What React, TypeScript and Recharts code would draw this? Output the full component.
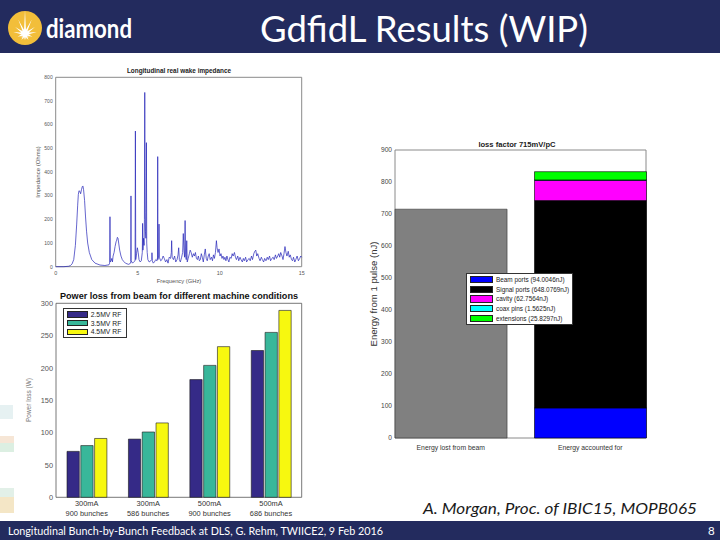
import React from "react";
import {
  LineChart,
  Line,
  BarChart,
  Bar,
  XAxis,
  YAxis,
  ReferenceArea,
  Legend,
} from "recharts";

const NAVY = "#232b5e";
const MATLAB_FONT = "'Liberation Sans', Arial, Helvetica, sans-serif";
const SLIDE_FONT = "Lato, 'Open Sans', sans-serif";

// Longitudinal real wake impedance, [frequency GHz, impedance Ohm]
const impedanceSamples: [number, number][] = [
  [0, 0], [0.5, 0], [0.8, 2], [0.9, 5], [1.0, 12], [1.1, 30], [1.2, 90],
  [1.28, 180], [1.34, 260], [1.38, 305], [1.42, 321], [1.47, 318], [1.52, 308],
  [1.57, 325], [1.62, 338], [1.66, 341], [1.7, 325], [1.76, 280], [1.82, 210],
  [1.88, 150], [1.95, 100], [2.05, 60], [2.2, 30], [2.4, 15], [2.7, 7], [3.0, 5],
  [3.25, 8], [3.29, 15], [3.31, 211], [3.33, 20], [3.38, 25], [3.42, 35], [3.46, 20],
  [3.5, 45], [3.56, 60], [3.62, 85], [3.68, 105], [3.72, 112], [3.76, 124], [3.8, 120],
  [3.84, 100], [3.9, 70], [3.98, 45], [4.06, 30], [4.15, 22], [4.25, 15], [4.35, 12],
  [4.45, 10], [4.55, 14], [4.58, 20], [4.59, 299], [4.6, 25], [4.68, 15], [4.75, 20],
  [4.84, 25], [4.86, 573], [4.88, 30], [4.93, 55], [4.98, 80], [5.03, 60], [5.08, 30],
  [5.15, 20], [5.22, 25], [5.28, 60], [5.3, 183], [5.32, 70], [5.36, 120], [5.39, 90],
  [5.41, 200], [5.43, 736], [5.45, 230], [5.47, 150], [5.5, 120], [5.53, 524], [5.55, 100],
  [5.58, 60], [5.62, 30], [5.7, 20], [5.8, 25], [5.86, 30], [5.87, 59], [5.89, 25],
  [5.95, 15], [6.02, 20], [6.1, 30], [6.18, 25], [6.21, 40], [6.22, 465], [6.23, 30],
  [6.28, 45], [6.3, 180], [6.32, 40], [6.4, 25], [6.48, 30], [6.55, 45], [6.62, 35],
  [6.7, 20], [6.78, 30], [6.85, 15], [6.92, 40], [7.0, 35], [7.05, 60], [7.07, 110],
  [7.1, 40], [7.18, 30], [7.25, 45], [7.32, 20], [7.4, 30], [7.46, 50], [7.5, 80],
  [7.54, 30], [7.6, 20], [7.68, 40], [7.74, 60], [7.78, 140], [7.82, 70], [7.86, 40],
  [7.89, 195], [7.92, 50], [7.96, 30], [7.99, 110], [8.02, 20], [8.08, 35], [8.15, 55],
  [8.2, 70], [8.26, 60], [8.33, 40], [8.4, 55], [8.46, 45], [8.52, 60], [8.58, 35],
  [8.64, 30], [8.7, 45], [8.76, 25], [8.82, 30], [8.88, 55], [8.94, 40], [9.0, 20],
  [9.06, 50], [9.12, 75], [9.18, 35], [9.24, 25], [9.3, 45], [9.36, 55], [9.42, 30],
  [9.5, 40], [9.56, 25], [9.62, 50], [9.68, 35], [9.74, 60], [9.8, 110], [9.84, 80],
  [9.9, 60], [9.96, 75], [10.02, 45], [10.08, 55], [10.14, 35], [10.2, 45], [10.26, 30],
  [10.32, 40], [10.38, 25], [10.44, 45], [10.5, 30], [10.56, 20], [10.62, 40], [10.7, 35],
  [10.76, 55], [10.82, 45], [10.9, 60], [10.96, 40], [11.02, 30], [11.1, 45], [11.16, 25],
  [11.24, 40], [11.3, 30], [11.38, 20], [11.44, 35], [11.5, 25], [11.58, 40], [11.64, 20],
  [11.72, 30], [11.8, 35], [11.86, 25], [11.94, 45], [12.0, 30], [12.08, 55], [12.14, 65],
  [12.2, 70], [12.26, 45], [12.32, 55], [12.4, 35], [12.46, 25], [12.54, 40], [12.6, 30],
  [12.68, 20], [12.74, 35], [12.82, 25], [12.9, 40], [12.96, 30], [13.04, 45], [13.1, 25],
  [13.18, 35], [13.26, 40], [13.32, 30], [13.4, 50], [13.46, 35], [13.54, 45], [13.6, 55],
  [13.66, 40], [13.72, 60], [13.8, 45], [13.86, 30], [13.92, 55], [13.98, 85], [14.04, 60],
  [14.1, 45], [14.18, 65], [14.24, 40], [14.3, 50], [14.38, 30], [14.44, 25], [14.5, 40],
  [14.58, 20], [14.64, 30], [14.72, 45], [14.8, 25], [14.88, 35], [14.94, 45], [15.0, 40],
];
const freqTicks = [0, 5, 10, 15];
const impedanceTicks = [0, 100, 200, 300, 400, 500, 600, 700, 800];

// Power loss from beam (W)
const conditions = ["300mA|900 bunches", "300mA|586 bunches", "500mA|900 bunches", "500mA|686 bunches"];
const rfLabels = ["2.5MV RF", "3.5MV RF", "4.5MV RF"];
const rfColors = ["#352a87", "#38b79a", "#f7f80f"];
const powerRf25 = [71, 90, 182, 227];
const powerRf35 = [80, 101, 204, 255];
const powerRf45 = [91, 115, 233, 289];
const powerTicks = [0, 50, 100, 150, 200, 250, 300];

// Energy from 1 pulse (nJ)
const energyCategories = ["Energy lost from beam", "Energy accounted for"];
const energyLost = 715;
const energyParts = ["Beam ports", "Signal ports", "cavity", "coax pins", "extensions"];
const energyPartValues = [94.0046, 648.0769, 62.7564, 1.5625, 25.8297];
const energyColors = ["#0000ff", "#000000", "#ff00ff", "#00ffff", "#00ff00"];
const energyTicks = [0, 100, 200, 300, 400, 500, 600, 700, 800, 900];

const impedanceData = impedanceSamples.map(([f, z]) => ({ f, z }));
const powerData = conditions.map((c, i) => ({
  c,
  rf25: powerRf25[i],
  rf35: powerRf35[i],
  rf45: powerRf45[i],
}));
const partRow: Record<string, number> = { pos: 2 };
energyPartValues.forEach((v, i) => (partRow[`p${i}`] = v));
const energyData = [{ pos: 1, lost: energyLost }, partRow];

// plain svg tick text, so colours don't get picked up from the axis
function makeTick(size: number, color: string, anchor: "middle" | "end", dy: number, fmt?: (v: any) => string) {
  return ({ x, y, payload }: any) => (
    <text x={x} y={y} dy={dy} textAnchor={anchor} fontSize={size} fill={color} stroke="none" fontFamily={MATLAB_FONT}>
      {fmt ? fmt(payload.value) : payload.value}
    </text>
  );
}

function ConditionTick({ x, y, payload }: any) {
  const [a, b] = String(payload.value).split("|");
  return (
    <text x={x} y={y} textAnchor="middle" fontSize={7.4} fill="#333" stroke="none" fontFamily={MATLAB_FONT}>
      <tspan x={x} dy={5.8}>{a}</tspan>
      <tspan x={x} dy={9.6}>{b}</tspan>
    </text>
  );
}

function BoxLegend({ payload, width, row, swatch, fontSize }: any) {
  const items = (payload || []).filter((e: any) => e.dataKey !== "lost" && e.type !== "none");
  return (
    <div
      style={{
        width,
        boxSizing: "border-box",
        border: "1px solid #333",
        background: "#fff",
        padding: "1px 2px 1px 3px",
        fontFamily: MATLAB_FONT,
        fontSize,
        color: "#222",
      }}
    >
      {items.map((e: any) => (
        <div key={e.value} style={{ display: "flex", alignItems: "center", height: row, whiteSpace: "nowrap" }}>
          <span
            style={{
              display: "inline-block",
              width: swatch,
              height: row - 2.5,
              background: e.color,
              border: "0.5px solid #222",
              boxSizing: "border-box",
              marginRight: 3,
              flex: "none",
            }}
          />
          <span>{e.value}</span>
        </div>
      ))}
    </div>
  );
}

function Logo() {
  const cx = 25;
  const cy = 34;
  const rays: [number, number][] = [
    [-90, 24], [-65, 16], [-115, 16], [-35, 12], [-145, 12], [-10, 12], [-170, 12],
    [20, 8], [160, 8], [60, 7], [120, 7], [90, 6],
  ];
  const pts: string[] = [];
  rays.forEach(([a, len]) => {
    const r = (a * Math.PI) / 180;
    pts.push(`${cx + 2 * Math.cos(r - 0.56)},${cy + 2 * Math.sin(r - 0.56)}`);
    pts.push(`${cx + len * Math.cos(r)},${cy + len * Math.sin(r)}`);
    pts.push(`${cx + 2 * Math.cos(r + 0.56)},${cy + 2 * Math.sin(r + 0.56)}`);
  });
  return (
    <g>
      <defs>
        <clipPath id="logoClip">
          <circle cx={25} cy={28} r={17} />
        </clipPath>
        <radialGradient id="glow" cx="50%" cy="50%" r="50%">
          <stop offset="0%" stopColor="#ffffff" />
          <stop offset="100%" stopColor="#ffffff" stopOpacity={0} />
        </radialGradient>
      </defs>
      <circle cx={25} cy={28} r={17} fill="#f2be3a" />
      <g clipPath="url(#logoClip)">
        <polygon points={pts.join(" ")} fill="#ffffff" />
        <circle cx={cx} cy={cy} r={6} fill="url(#glow)" />
      </g>
      <text x={46} y={38} fill="#fff" fontFamily={SLIDE_FONT} fontWeight={700} fontSize={26} textLength={86} lengthAdjust="spacingAndGlyphs">
        diamond
      </text>
    </g>
  );
}

export default function App() {
  return (
    <div style={{ position: "absolute", left: 0, top: 0, width: 720, height: 540, background: "#fff", overflow: "hidden" }}>
      <svg width={720} height={540} style={{ position: "absolute", left: 0, top: 0 }}>
        <rect x={0} y={0} width={720} height={53} fill={NAVY} />
        <Logo />
        <text x={260} y={42} fill="#fff" fontFamily={SLIDE_FONT} fontSize={36} textLength={328} lengthAdjust="spacingAndGlyphs">
          GdfidL Results (WIP)
        </text>

        {/* faint decorative smudges on the left edge */}
        <rect x={0} y={405} width={13} height={14} fill="#e6f1f2" />
        <rect x={0} y={436} width={14} height={7} fill="#f6e6d6" />
        <rect x={0} y={443} width={14} height={9} fill="#dcefe2" />
        <rect x={0} y={488} width={14} height={9} fill="#e2f0e8" />
        <rect x={0} y={497} width={14} height={16} fill="#f4e6c6" />

        {/* chart titles and axis labels */}
        <text x={179} y={73} textAnchor="middle" fontFamily={MATLAB_FONT} fontWeight={700} fontSize={6.4} fill="#222">
          Longitudinal real wake impedance
        </text>
        <text x={179} y={283} textAnchor="middle" fontFamily={MATLAB_FONT} fontSize={5.8} fill="#555">
          Frequency (GHz)
        </text>
        <text transform="translate(40,172) rotate(-90)" textAnchor="middle" fontFamily={MATLAB_FONT} fontSize={6} fill="#555">
          Impedance (Ohms)
        </text>

        <text x={179} y={299} textAnchor="middle" fontFamily={MATLAB_FONT} fontWeight={700} fontSize={8.2} fill="#111" textLength={238} lengthAdjust="spacingAndGlyphs">
          Power loss from beam for different machine conditions
        </text>
        <text transform="translate(31,400) rotate(-90)" textAnchor="middle" fontFamily={MATLAB_FONT} fontSize={6.5} fill="#777">
          Power loss (W)
        </text>

        <text x={517} y={147} textAnchor="middle" fontFamily={MATLAB_FONT} fontWeight={700} fontSize={7.6} fill="#222">
          loss factor 715mV/pC
        </text>
        <text transform="translate(377,294) rotate(-90)" textAnchor="middle" fontFamily={MATLAB_FONT} fontSize={9.6} fill="#333">
          Energy from 1 pulse (nJ)
        </text>

        <text x={423} y={514} fontFamily={SLIDE_FONT} fontStyle="italic" fontSize={15} fill="#1a1a1a" textLength={274} lengthAdjust="spacingAndGlyphs">
          A. Morgan, Proc. of IBIC15, MOPB065
        </text>

        <rect x={0} y={521} width={720} height={19} fill={NAVY} />
        <text x={8} y={535} fill="#fff" fontFamily={SLIDE_FONT} fontSize={11.5} textLength={375} lengthAdjust="spacingAndGlyphs">
          Longitudinal Bunch-by-Bunch Feedback at DLS, G. Rehm, TWIICE2, 9 Feb 2016
        </text>
        <text x={708} y={535} fill="#fff" fontFamily={SLIDE_FONT} fontSize={11.5}>
          8
        </text>
      </svg>

      {/* impedance spectrum */}
      <div style={{ position: "absolute", left: 20, top: 62, fontFamily: MATLAB_FONT }}>
        <LineChart width={290} height={230} data={impedanceData} margin={{ top: 15.3, right: 8.3, bottom: 5.3, left: 10.7 }}>
          <ReferenceArea y1={0} y2={800} fill="none" stroke="#8a8a8a" strokeWidth={1} />
          <XAxis
            type="number"
            dataKey="f"
            domain={[0, 15]}
            ticks={freqTicks}
            height={20}
            axisLine={false}
            tickLine={false}
            tickSize={2}
            tickMargin={1}
            tick={makeTick(5.4, "#555", "middle", 5)}
          />
          <YAxis
            domain={[0, 800]}
            ticks={impedanceTicks}
            width={25}
            axisLine={false}
            tickLine={false}
            tickSize={2}
            tickMargin={1}
            tick={makeTick(5, "#555", "end", 1.8)}
          />
          <Line dataKey="z" type="linear" dot={false} stroke="#2424b8" strokeWidth={0.7} isAnimationActive={false} />
        </LineChart>
      </div>

      {/* power loss bars */}
      <div style={{ position: "absolute", left: 20, top: 290, fontFamily: MATLAB_FONT }}>
        <BarChart
          width={290}
          height={235}
          data={powerData}
          margin={{ top: 13.3, right: 8.3, bottom: 5.7, left: 11 }}
          barSize={12.3}
          barGap={1.5}
        >
          <ReferenceArea y1={0} y2={300} fill="none" stroke="#555" strokeWidth={0.8} />
          <XAxis dataKey="c" height={22} axisLine={false} tickLine={false} tickSize={3} tickMargin={0} tick={<ConditionTick />} interval={0} />
          <YAxis
            domain={[0, 300]}
            ticks={powerTicks}
            width={25}
            axisLine={false}
            tickLine={false}
            tickSize={2}
            tickMargin={1}
            tick={makeTick(7.4, "#555", "end", 2.6)}
          />
          <Bar dataKey="rf25" name={rfLabels[0]} fill={rfColors[0]} stroke="#1a1a1a" strokeWidth={0.6} isAnimationActive={false} />
          <Bar dataKey="rf35" name={rfLabels[1]} fill={rfColors[1]} stroke="#1a1a1a" strokeWidth={0.6} isAnimationActive={false} />
          <Bar dataKey="rf45" name={rfLabels[2]} fill={rfColors[2]} stroke="#1a1a1a" strokeWidth={0.6} isAnimationActive={false} />
          <Legend
            layout="horizontal"
            verticalAlign="middle"
            align="center"
            wrapperStyle={{ left: 42.7, top: 18, width: 64 }}
            content={(p: any) => <BoxLegend payload={p.payload} width={64} row={8.8} swatch={21} fontSize={6.8} />}
          />
        </BarChart>
      </div>

      {/* energy budget */}
      <div style={{ position: "absolute", left: 355, top: 135, fontFamily: MATLAB_FONT }}>
        <BarChart width={300} height={320} data={energyData} margin={{ top: 15, right: 9, bottom: 1, left: 15 }}>
          <ReferenceArea y1={0} y2={900} fill="none" stroke="#8a8a8a" strokeWidth={1} />
          <XAxis
            type="number"
            dataKey="pos"
            domain={[0.6, 2.4]}
            ticks={[1, 2]}
            height={16}
            axisLine={false}
            tickLine={false}
            tickSize={4}
            tickMargin={2}
            tick={makeTick(6.8, "#333", "middle", 5.5, (v: number) => energyCategories[v - 1])}
          />
          <YAxis
            domain={[0, 900]}
            ticks={energyTicks}
            width={25}
            axisLine={false}
            tickLine={false}
            tickSize={2}
            tickMargin={1}
            tick={makeTick(6.6, "#444", "end", 2.3)}
          />
          <Bar dataKey="lost" stackId="e" barSize={112} fill="#808080" stroke="#333" strokeWidth={0.6} legendType="none" isAnimationActive={false} />
          {energyParts.map((name, i) => (
            <Bar
              key={name}
              dataKey={`p${i}`}
              stackId="e"
              barSize={112}
              name={`${name} (${energyPartValues[i]}nJ)`}
              fill={energyColors[i]}
              stroke="#000"
              strokeWidth={0.6}
              isAnimationActive={false}
            />
          ))}
          <Legend
            layout="horizontal"
            verticalAlign="middle"
            align="center"
            wrapperStyle={{ left: 111, top: 138, width: 107 }}
            content={(p: any) => <BoxLegend payload={p.payload} width={107} row={9.6} swatch={23} fontSize={6.4} />}
          />
        </BarChart>
      </div>
    </div>
  );
}
